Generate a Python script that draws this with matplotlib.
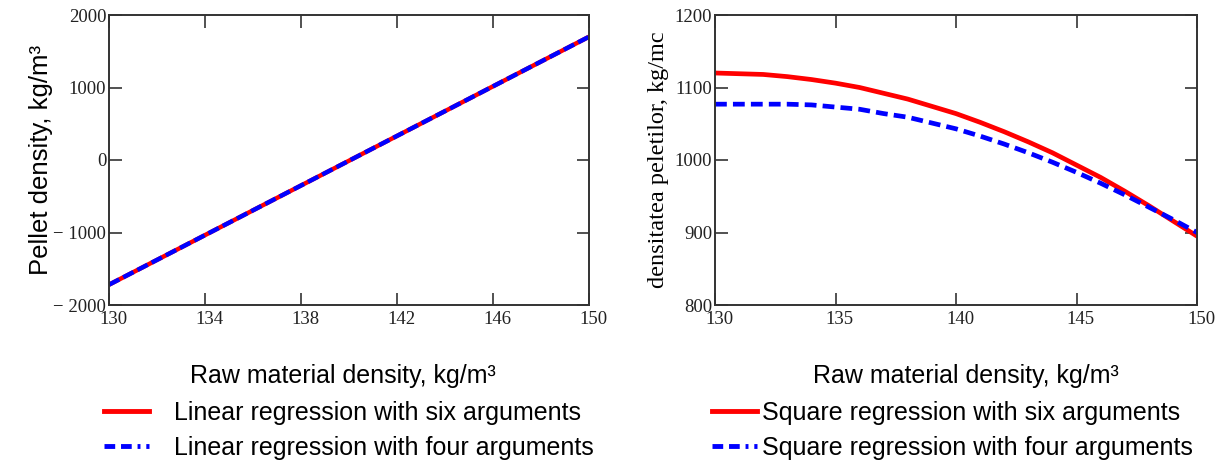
import numpy as np
import matplotlib
matplotlib.use("Agg")
import matplotlib.pyplot as plt
import matplotlib.transforms as mtrans
from matplotlib.lines import Line2D

# data
x_lin = [130, 135, 140, 145, 150]
lin_six = [-1720, -865, -10, 845, 1700]
lin_four = [-1720, -865, -10, 845, 1700]

x_sq = list(range(130, 151))
sq_six = [1120, 1119, 1118, 1115, 1111, 1106, 1100, 1092, 1084, 1074, 1064,
          1052, 1039, 1025, 1010, 993, 976, 957, 937, 916, 895]
sq_four = [1077, 1077, 1077, 1077, 1076, 1073, 1070, 1064, 1059, 1051, 1043,
           1033, 1022, 1010, 997, 983, 968, 952, 935, 918, 900]

lin_xticks = [130, 134, 138, 142, 146, 150]
lin_yticks = [-2000, -1000, 0, 1000, 2000]
sq_xticks = [130, 135, 140, 145, 150]
sq_yticks = [800, 900, 1000, 1100, 1200]

serif = ['Liberation Serif', 'DejaVu Serif']
sans = ['Liberation Sans', 'DejaVu Sans']

W, H = 1221, 466
fig = plt.figure(figsize=(W/100, H/100), dpi=100)
ax1 = fig.add_axes([109/W, (H-305)/H, 480/W, 290/H])
ax2 = fig.add_axes([715/W, (H-305)/H, 482/W, 290/H])

red = '#ff0000'
blue = '#0000ff'

ax1.plot(x_lin, lin_six, color=red, lw=3.2, solid_capstyle='butt')
ax1.plot(x_lin, lin_four, color=blue, lw=3.2, ls=(0, (2.6, 1.0)))
ax2.plot(x_sq, sq_six, color=red, lw=3.4)
ax2.plot(x_sq, sq_four, color=blue, lw=3.4, ls=(0, (2.5, 1.3)))

def fmt(v):
    return ('\u2212 ' + str(abs(v))) if v < 0 else str(v)

shift = mtrans.ScaledTranslation(4/100, -3/100, fig.dpi_scale_trans)

for ax, xt, yt, xl, yl in [(ax1, lin_xticks, lin_yticks, (130, 150), (-2000, 2000)),
                           (ax2, sq_xticks, sq_yticks, (130, 150), (800, 1200))]:
    ax.set_xlim(*xl)
    ax.set_ylim(*yl)
    ax.set_xticks(xt)
    ax.set_yticks(yt)
    ax.set_xticklabels([str(v) for v in xt], family=serif, fontsize=13.5)
    ax.set_yticklabels([fmt(v) for v in yt], family=serif, fontsize=13.5)
    ax.tick_params(direction='in', length=9, width=1.2, top=True, right=True,
                   color='#333333', labelcolor='#222222', pad=2)
    for lab in ax.get_xticklabels():
        lab.set_transform(lab.get_transform() + shift)
    for s in ax.spines.values():
        s.set_linewidth(1.4)
        s.set_color('#333333')

ax1.set_ylabel('Pellet density, kg/m\u00b3', family=sans, fontsize=18.5, labelpad=0)
ax2.set_ylabel('densitatea peletilor, kg/mc', family=serif, fontsize=17.5, labelpad=4)

fig.text(343/W, 1 - 376/H, 'Raw material density, kg/m\u00b3', family=sans,
         fontsize=18, ha='center', va='center')
fig.text(966/W, 1 - 376/H, 'Raw material density, kg/m\u00b3', family=sans,
         fontsize=18, ha='center', va='center')

h_red = Line2D([], [], color=red, lw=3.5)
h_blue = Line2D([], [], color=blue, lw=3.5, ls=(0, (2.2, 1.2, 2.2, 1.2, 0.6, 1.2)))

fig.legend([h_red, h_blue],
           ['Linear regression with six arguments', 'Linear regression with four arguments'],
           loc='upper left', bbox_to_anchor=(104/W, 1 - 401/H), frameon=False,
           prop={'family': sans, 'size': 18}, handlelength=1.8, handletextpad=1.0,
           labelspacing=0.42, borderaxespad=0, borderpad=0)
fig.legend([h_red, h_blue],
           ['Square regression with six arguments', 'Square regression with four arguments'],
           loc='upper left', bbox_to_anchor=(712/W, 1 - 401/H), frameon=False,
           prop={'family': sans, 'size': 18}, handlelength=1.8, handletextpad=0.2,
           labelspacing=0.42, borderaxespad=0, borderpad=0)

fig.savefig('out.png', dpi=100)
